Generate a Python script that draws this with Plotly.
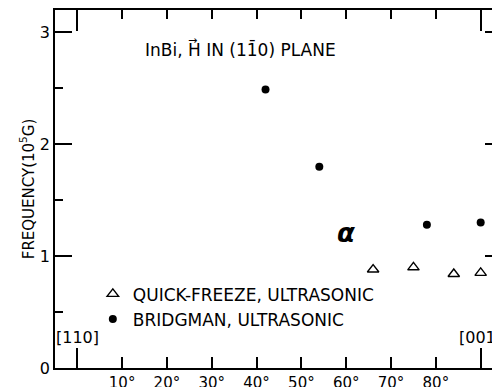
import plotly.graph_objects as go

# Data
qf_angle = [66, 75, 84, 90]
qf_freq = [0.88, 0.90, 0.84, 0.85]
br_angle = [42, 54, 78, 90]
br_freq = [2.49, 1.80, 1.28, 1.30]

x_tickvals = [10, 20, 30, 40, 50, 60, 70, 80]
x_ticktext = ["10°", "20°", "30°", "40°", "50°", "60°", "70°", "80°"]
x_long_ticks = [0, 90]
x_long_labels = ["[110]", "[001]"]
y_tickvals = [0, 1, 2, 3]
y_half_ticks = [0.5, 1.5, 2.5]

FONT = "DejaVu Sans"
XR = [-4.97, 94.31]
YR = [0, 3.2]

fig = go.Figure()
fig.add_trace(go.Scatter(
    x=qf_angle, y=qf_freq, mode="markers", name="QUICK-FREEZE, ULTRASONIC",
    marker=dict(symbol="triangle-up-open", size=10, color="black", line=dict(width=1.4, color="black"))))
fig.add_trace(go.Scatter(
    x=br_angle, y=br_freq, mode="markers", name="BRIDGMAN, ULTRASONIC",
    marker=dict(symbol="circle", size=8, color="black")))
# empty traces so that the extra tick-only axes are drawn
for xa, ya in [("x2", "y"), ("x3", "y"), ("x4", "y"), ("x", "y2"), ("x", "y3"), ("x", "y4")]:
    fig.add_trace(go.Scatter(x=[], y=[], xaxis=xa, yaxis=ya, showlegend=False, hoverinfo="skip"))

for xv, lab in zip(x_long_ticks, x_long_labels):
    fig.add_annotation(x=xv, y=0.17, xref="x", yref="y", text=lab, showarrow=False,
                       yanchor="bottom", xanchor="center",
                       font=dict(family=FONT, size=16, color="black"))

fig.add_annotation(x=14.66, y=2.85, xref="x", yref="y", text="InBi, H IN (11\u03040) PLANE",
                   showarrow=False, xanchor="left", yanchor="middle",
                   font=dict(family=FONT, size=17, color="black"))
fig.add_annotation(x=25.6, y=2.93, xref="x", yref="y", text="→", showarrow=False,
                   xanchor="center", yanchor="middle",
                   font=dict(family=FONT, size=11, color="black"))
fig.add_annotation(x=60.0, y=1.21, xref="x", yref="y", text="<b><i>α</i></b>",
                   showarrow=False, xanchor="center", yanchor="middle",
                   font=dict(family="DejaVu Sans", size=26, color="black"))

tick_only = dict(showgrid=False, zeroline=False, showline=False, showticklabels=False,
                 ticks="inside", tickwidth=1.6, tickcolor="black", automargin=False,
                 tickmode="array")

fig.update_layout(
    width=492, height=379,
    margin=dict(l=47, r=0, t=2, b=19),
    paper_bgcolor="white", plot_bgcolor="white",
    font=dict(family=FONT, size=14, color="black"),
    showlegend=True,
    legend=dict(x=0.085, y=0.256, xanchor="left", yanchor="top", bgcolor="rgba(0,0,0,0)",
                font=dict(family=FONT, size=17, color="black"), itemwidth=30),
    xaxis=dict(range=XR, tickmode="array", tickvals=x_tickvals, ticktext=x_ticktext,
               ticks="inside", ticklen=11, tickwidth=1.6, tickcolor="black",
               showline=True, linecolor="black", linewidth=1.6, mirror=True,
               showgrid=False, zeroline=False, automargin=False,
               tickfont=dict(family=FONT, size=15, color="black")),
    xaxis2=dict(range=XR, overlaying="x", side="bottom", anchor="y",
                tickvals=x_long_ticks, ticklen=20, **tick_only),
    xaxis3=dict(range=XR, overlaying="x", side="top", anchor="y",
                tickvals=x_tickvals, ticklen=9, **tick_only),
    xaxis4=dict(range=XR, overlaying="x", side="top", anchor="y",
                tickvals=x_long_ticks, ticklen=21, **tick_only),
    yaxis=dict(range=YR, tickmode="array", tickvals=y_tickvals,
               ticks="inside", ticklen=17, tickwidth=1.6, tickcolor="black",
               showline=True, linecolor="black", linewidth=1.6, mirror=False,
               showgrid=False, zeroline=False, automargin=False,
               tickfont=dict(family=FONT, size=16, color="black"),
               title=dict(text="FREQUENCY(10<sup>5</sup>G)",
                          font=dict(family=FONT, size=15, color="black"), standoff=2)),
    yaxis2=dict(range=YR, overlaying="y", side="left", anchor="x",
                tickvals=y_half_ticks, ticklen=8, **tick_only),
    yaxis3=dict(range=YR, overlaying="y", side="right", anchor="x",
                tickvals=y_tickvals, ticklen=15, **tick_only),
    yaxis4=dict(range=YR, overlaying="y", side="right", anchor="x",
                tickvals=y_half_ticks, ticklen=6, **tick_only),
)

fig.write_html("out.html")
